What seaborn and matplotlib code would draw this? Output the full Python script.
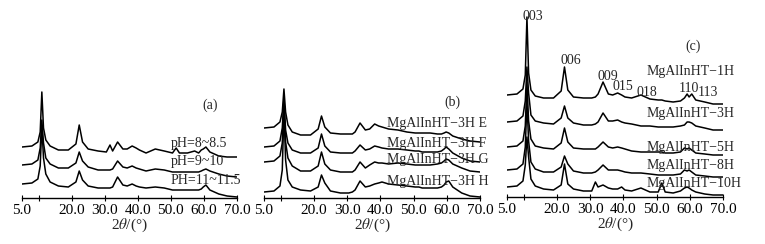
import matplotlib
matplotlib.use("Agg")
import matplotlib.pyplot as plt
import seaborn as sns

sns.set_theme(style="white")
plt.rcParams['font.family'] = ['Liberation Serif', 'DejaVu Serif']
plt.rcParams['mathtext.fontset'] = 'stix'

# shared 2theta grid (deg) for all traces
two_theta = [5, 8, 9.8, 10.5, 11.0, 11.5, 12.2, 13.5, 16, 19,
             21.3, 22.3, 23.3, 25, 28, 30.5, 31.6, 32.4, 33.9, 35.5,
             36.8, 38.3, 39.5, 40.5, 42.5, 45.3, 48, 50.5, 51.6, 52.6,
             55, 57.2, 58.4, 59.2, 59.8, 60.6, 61.8, 64.5, 67, 70]

# panel (a) - intensity with vertical offset already included
ph_8 = [51, 52, 56, 66, 106, 70, 58, 52, 48, 48,
        54, 73, 56, 49, 47, 46, 53, 47, 56, 49,
        49, 52, 50, 48, 45, 49, 47, 45, 50, 45,
        45, 47, 45, 48, 49, 51, 46, 42, 41, 41]
ph_9 = [33, 34, 38, 50, 78, 55, 40, 34, 30, 30,
        35, 46, 37, 31, 28, 28, 28, 29, 37, 31,
        30, 32, 30, 29, 27, 29, 28, 26, 26, 26,
        26, 26, 26, 27, 28, 29, 27, 24, 22, 21]
ph_11 = [14, 15, 19, 32, 72, 40, 24, 16, 12, 11,
         16, 27, 18, 12, 10, 10, 10, 11, 21, 13,
         12, 14, 12, 11, 10, 11, 10, 8, 8, 8,
         8, 8, 8, 9, 11, 13, 8, 4, 2, 1]

# panel (b)
h3_e = [70, 71, 76, 86, 109, 86, 73, 66, 63, 63,
        69, 82, 71, 65, 64, 64, 64, 66, 75, 68,
        69, 74, 72, 71, 69, 68, 66, 65, 65, 65,
        65, 64, 64, 65, 66, 65, 62, 59, 57, 56]
h3_f = [51, 52, 57, 70, 100, 68, 55, 48, 45, 45,
        50, 64, 52, 46, 45, 45, 45, 47, 53, 48,
        49, 52, 51, 50, 49, 49, 48, 47, 47, 46,
        46, 46, 47, 49, 51, 49, 45, 40, 37, 36]
h3_g = [36, 37, 42, 55, 95, 56, 40, 32, 27, 27,
        32, 46, 34, 28, 26, 26, 26, 28, 36, 30,
        33, 36, 35, 35, 34, 35, 34, 33, 33, 33,
        33, 34, 35, 37, 39, 38, 34, 30, 27, 26]
h3_h = [6, 7, 12, 28, 88, 38, 18, 11, 8, 7,
        11, 23, 15, 7, 5, 5, 6, 8, 17, 11,
        12, 14, 15, 16, 14, 13, 12, 11, 11, 10,
        10, 10, 11, 13, 16, 17, 11, 5, 2, 1]

# panel (c)
t_1h = [102, 103, 108, 122, 180, 124, 107, 101, 99, 99,
        106, 130, 107, 100, 99, 99, 100, 103, 115, 103,
        102, 104, 102, 100, 99, 102, 98, 97, 97, 96,
        95, 96, 99, 103, 100, 103, 97, 95, 93, 93]
t_3h = [75, 76, 81, 96, 130, 104, 82, 76, 74, 73,
        79, 91, 79, 74, 72, 72, 73, 75, 84, 76,
        76, 77, 75, 74, 73, 71, 71, 70, 70, 70,
        70, 71, 72, 75, 75, 74, 71, 69, 67, 67]
t_5h = [50, 51, 56, 71, 115, 76, 58, 51, 49, 48,
        54, 69, 55, 49, 48, 48, 48, 50, 55, 50,
        49, 50, 49, 48, 46, 45, 45, 45, 45, 44,
        44, 45, 49, 48, 49, 47, 44, 43, 42, 42]
t_8h = [27, 28, 33, 50, 95, 56, 35, 28, 25, 25,
        30, 41, 33, 26, 24, 24, 25, 27, 32, 27,
        27, 27, 26, 25, 24, 24, 23, 22, 22, 22,
        22, 23, 27, 26, 27, 25, 22, 21, 20, 20]
t_10h = [10, 11, 16, 32, 60, 40, 18, 11, 8, 7,
         12, 33, 13, 8, 6, 6, 15, 10, 12, 9,
         8, 8, 10, 7, 6, 9, 5, 5, 14, 5,
         4, 6, 9, 10, 9, 7, 5, 3, 2, 2]

labels_a = ['pH=8~8.5', 'pH=9~10', 'PH=11~11.5']
labels_b = ['MgAlInHT−3H E', 'MgAlInHT−3H F', 'MgAlInHT−3H G', 'MgAlInHT−3H H']
labels_c = ['MgAlInHT−1H', 'MgAlInHT−3H', 'MgAlInHT−5H', 'MgAlInHT−8H', 'MgAlInHT−10H']
hkl = ['003', '006', '009', '015', '018', '110', '113']
hkl_pos = [12.8, 24.3, 35.4, 39.9, 47.1, 59.8, 65.4]
hkl_y = [181, 136, 121, 110, 105, 108, 105]

tick_pos = [5, 10, 20, 30, 40, 50, 60, 70]
tick_lab = ['5.0', '', '20.0', '30.0', '40.0', '50.0', '60.0', '70.0']

W, H = 765, 244
fig = plt.figure(figsize=(W / 100, H / 100), dpi=100)


def make_ax(left, right, base):
    ax = fig.add_axes([left / W, (H - base) / H, (right - left) / W, 188 / H])
    ax.set_xlim(5, 70)
    ax.set_ylim(0, 188)
    for s in ['top', 'right', 'left']:
        ax.spines[s].set_visible(False)
    ax.spines['bottom'].set_color('black')
    ax.spines['bottom'].set_linewidth(1.0)
    ax.set_yticks([])
    ax.set_xticks(tick_pos)
    ax.set_xticklabels(tick_lab, fontsize=11)
    ax.tick_params(axis='x', direction='inout', length=4, width=0.8,
                   pad=2, colors='black', bottom=True)
    ax.set_xlabel('2$\\theta$/(°)', fontsize=11, va='center')
    ax.xaxis.set_label_coords(0.5, -27 / 188)
    ax.patch.set_alpha(0)
    return ax


ax_a = make_ax(22, 237, 198)
ax_b = make_ax(264, 480, 198)
ax_c = make_ax(507, 723, 197)

for ax, traces in [(ax_a, [ph_8, ph_9, ph_11]),
                   (ax_b, [h3_e, h3_f, h3_g, h3_h]),
                   (ax_c, [t_1h, t_3h, t_5h, t_8h, t_10h])]:
    for tr in traces:
        sns.lineplot(x=two_theta, y=tr, ax=ax, color='black', linewidth=1.1)
    ax.set_ylabel('')

# panel labels and sample names
fs = 10
ax_a.text(61.8, 93, '(a)', fontsize=fs, ha='center', va='center')
for lab, y in zip(labels_a, [55, 36, 17]):
    ax_a.text(50.0, y, lab, fontsize=fs, ha='left', va='center')

ax_b.text(61.6, 96, '(b)', fontsize=fs, ha='center', va='center')
for lab, y in zip(labels_b, [75, 55, 38, 16]):
    ax_b.text(42.0, y, lab, fontsize=fs, ha='left', va='center')

ax_c.text(61.0, 151, '(c)', fontsize=fs, ha='center', va='center')
for lab, y in zip(labels_c, [125, 84, 50, 32, 14]):
    ax_c.text(47.1, y, lab, fontsize=fs, ha='left', va='center')
for lab, x, y in zip(hkl, hkl_pos, hkl_y):
    ax_c.text(x, y, lab, fontsize=fs, ha='center', va='center')

fig.savefig('out.png', dpi=100, facecolor='white')
